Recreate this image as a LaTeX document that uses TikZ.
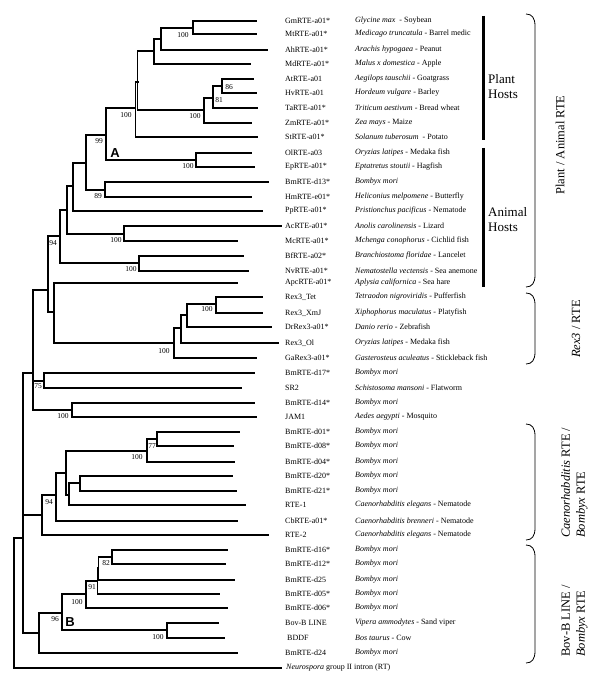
\documentclass[tikz,border=0pt]{standalone}
\usepackage{fontspec}
\setmainfont{Liberation Serif}
\setsansfont{Liberation Sans}
\begin{document}
\begin{tikzpicture}[x=1pt,y=-1pt,
  hbranch/.style={line width=1.8pt, line cap=rect},
  vbranch/.style={line width=1.1pt},
  leafname/.style={anchor=west, inner sep=0pt, font=\fontsize{8}{9}\selectfont},
  boot/.style={inner sep=0pt, font=\fontsize{7.5}{8}\selectfont},
  hostbar/.style={line width=3pt},
  hostlabel/.style={anchor=west, align=left, inner sep=0pt, font=\fontsize{13}{15}\selectfont},
  grouplabel/.style={rotate=90, inner sep=0pt, font=\fontsize{12.5}{15}\selectfont},
  cladebrace/.style={line width=0.8pt},
  cladetag/.style={inner sep=0pt, font=\sffamily\bfseries\fontsize{13}{13}\selectfont}]
\useasboundingbox (0,0) rectangle (600,684);
\foreach \t/\x/\y/\nm/\sp in {
  gm/256/21/GmRTE-a01*/{\textit{Glycine max}\ \ - Soybean},
  mt/256/34/MtRTE-a01*/{\textit{Medicago truncatula} - Barrel medic},
  ah/267/50/AhRTE-a01*/{\textit{Arachis hypogaea} - Peanut},
  md/250/64/MdRTE-a01*/{\textit{Malus x domestica} - Apple},
  at/253/79/AtRTE-a01/{\textit{Aegilops tauschii} - Goatgrass},
  hv/256/93/HvRTE-a01/{\textit{Hordeum vulgare} - Barley},
  ta/257/108/TaRTE-a01*/{\textit{Triticum aestivum} - Bread wheat},
  zm/251/123/ZmRTE-a01*/{\textit{Zea mays} - Maize},
  st/257/137/StRTE-a01*/{\textit{Solanum tuberosum}\ \ - Potato},
  ol/251/153/OlRTE-a03/{\textit{Oryzias latipes} - Medaka fish},
  ep/254/167/EpRTE-a01*/{\textit{Eptatretus stoutii} - Hagfish},
  bmd13/268/182/BmRTE-d13*/{\textit{Bombyx mori}},
  hm/251/197/HmRTE-e01*/{\textit{Heliconius melpomene} - Butterfly},
  pp/262/211/PpRTE-a01*/{\textit{Pristionchus pacificus} - Nematode},
  ac/281/226/AcRTE-a01*/{\textit{Anolis carolinensis} - Lizard},
  mc/237/241/McRTE-a01*/{\textit{Mchenga conophorus} - Cichlid fish},
  bf/243/256/BfRTE-a02*/{\textit{Branchiostoma floridae} - Lancelet},
  nv/248/271/NvRTE-a01*/{\textit{Nematostella vectensis} - Sea anemone},
  apc/237/283/ApcRTE-a01*/{\textit{Aplysia californica} - Sea hare},
  tet/262/297/Rex3\_Tet/{\textit{Tetraodon nigroviridis} - Pufferfish},
  xmj/262/313/Rex3\_XmJ/{\textit{Xiphophorus maculatus} - Platyfish},
  dr/271/327/DrRex3-a01*/{\textit{Danio rerio} - Zebrafish},
  rol/278/343/Rex3\_Ol/{\textit{Oryzias latipes} - Medaka fish},
  ga/256/358/GaRex3-a01*/{\textit{Gasterosteus aculeatus} - Stickleback fish},
  d17/254/373/BmRTE-d17*/{\textit{Bombyx mori}},
  sr2/241/388/SR2/{\textit{Schistosoma mansoni} - Flatworm},
  d14/254/403/BmRTE-d14*/{\textit{Bombyx mori}},
  jam/256/417/JAM1/{\textit{Aedes aegypti} - Mosquito},
  d01/239/432/BmRTE-d01*/{\textit{Bombyx mori}},
  d08/233/446/BmRTE-d08*/{\textit{Bombyx mori}},
  d04/234/462/BmRTE-d04*/{\textit{Bombyx mori}},
  d20/232/476/BmRTE-d20*/{\textit{Bombyx mori}},
  d21/236/491/BmRTE-d21*/{\textit{Bombyx mori}},
  rte1/245/505/RTE-1/{\textit{Caenorhabditis elegans} - Nematode},
  cb/237/521/CbRTE-a01*/{\textit{Caenorhabditis brenneri} - Nematode},
  rte2/268/535/RTE-2/{\textit{Caenorhabditis elegans} - Nematode},
  d16/227/550/BmRTE-d16*/{\textit{Bombyx mori}},
  d12/225/564/BmRTE-d12*/{\textit{Bombyx mori}},
  d25/234/580/BmRTE-d25/{\textit{Bombyx mori}},
  d05/219/594/BmRTE-d05*/{\textit{Bombyx mori}},
  d06/227/608/BmRTE-d06*/{\textit{Bombyx mori}},
  bov/218/623/Bov-B LINE/{\textit{Vipera ammodytes} - Sand viper},
  bddf/224/638/{\hspace{2pt}BDDF}/{\textit{Bos taurus} - Cow},
  d24/237/653/BmRTE-d24/{\textit{Bombyx mori}}}
{
  \coordinate (\t) at (\x,\y);
  \node[leafname] (\t-name) at (285,\y) {\nm};
  \node[leafname] (\t-sp) at (355,\y) {\sp};
}
\coordinate (neu) at (281,668);
\node[leafname] (neu-name) at (286,668) {\textit{Neurospora} group II intron (RT)};
\foreach \n/\x/\y in {c1/193/28, c2/161/39, c3/154/51, c4/222/86, c5/213/98,
  c6/204/110, c7/137.7/82, c8/135.5/108, c9/196/160, c10/106/135, c11/105/190,
  c12/86/163, c13/73/186, c14/124/234, c15/67/210, c16/139/263, c17/60/236,
  c18/216/304, c19/187/315, c20/181/328, c21/174/343, c22/54/312, c23/48/290,
  c24/44/381, c25/72/410, c26/33/373, c27/157/439, c28/147/451, c29/80/483,
  c30/69/495, c31/66/473, c32/56/495, c33/42/515, c34/112/557, c35/98.5/568,
  c36/97.5/581, c37/86/594, c38/167/630, c39/62/613, c40/39/633, c41/23/538,
  root/14/538}
  \coordinate (\n) at (\x,\y);
\foreach \n/\b/\c in {c1/gm/mt, c2/c1/ah, c3/c2/md, c4/at/hv, c5/c4/ta, c6/c5/zm,
  c7/c3/c6, c8/c7/st, c9/ol/ep, c10/c8/c9, c11/bmd13/hm, c12/c10/c11, c13/c12/pp,
  c14/ac/mc, c15/c13/c14, c16/bf/nv, c17/c15/c16, c18/tet/xmj, c19/c18/dr,
  c20/c19/rol, c21/c20/ga, c22/apc/c21, c23/c17/c22, c24/d17/sr2, c25/d14/jam,
  c26/c23/c25, c27/d01/d08, c28/c27/d04, c29/d20/d21, c30/c29/rte1, c31/c28/c30,
  c32/c31/cb, c33/c32/rte2, c34/d16/d12, c35/c34/d25, c36/c35/d05, c37/c36/d06,
  c38/bov/bddf, c39/c37/c38, c40/c39/d24, c41/c26/c40, root/c41/neu}
{
  \draw[vbranch] (\b -| \n) -- (\c -| \n);
  \draw[hbranch] (\b) -- (\b -| \n) (\c) -- (\c -| \n);
}
\draw[hbranch] (c24) -- (c24 -| c26) (c33) -- (c33 -| c41);
\foreach \x/\y/\v [count=\i] in {183/35/100, 229/87/86, 219/100/81, 195/116/100,
  126/115/100, 188/166/100, 99/141/99, 98/196/89, 116/240/100, 53/243/94,
  131/269/100, 207/309/100, 164/351/100, 38/386/75, 63/416/100, 152/446/77,
  137/457/100, 49/502/94, 106/563/82, 92/587/91, 77/602/100, 55/619/96, 158/637/100}
  \node[boot] (bs\i) at (\x,\y) {\v};
\node[cladetag] (tagA) at (115,153) {A};
\node[cladetag] (tagB) at (70,622) {B};
\coordinate (plant-top) at (483,16);
\coordinate (plant-bot) at (483,140);
\coordinate (animal-top) at (483,148);
\coordinate (animal-bot) at (483,287);
\draw[hostbar] (plant-top) -- (plant-bot);
\draw[hostbar] (animal-top) -- (animal-bot);
\node[hostlabel] (plant) at (488,87) {Plant\\Hosts};
\node[hostlabel] (animal) at (488,220) {Animal\\Hosts};
\foreach \ya/\yb in {14/287, 293/364, 424/540, 545/663}
  \draw[cladebrace] (526,\ya) .. controls (532,\ya) and (535,{\ya+4}) .. (535,{\ya+12})
    -- (535,{\yb-12}) .. controls (535,{\yb-4}) and (532,\yb) .. (526,\yb);
\node[grouplabel] (pa-rte) at (560,145) {Plant / Animal RTE};
\node[grouplabel] (rex-rte) at (576,329) {\textit{Rex3} / RTE};
\node[grouplabel, align=left, anchor=west] (cae-rte) at (574.5,538)
  {\textit{Caenorhabditis} RTE /\\\textit{Bombyx} RTE};
\node[grouplabel, align=left, anchor=west] (bov-rte) at (574.5,657)
  {Bov-B LINE /\\\textit{Bombyx} RTE};
\end{tikzpicture}
\end{document}
